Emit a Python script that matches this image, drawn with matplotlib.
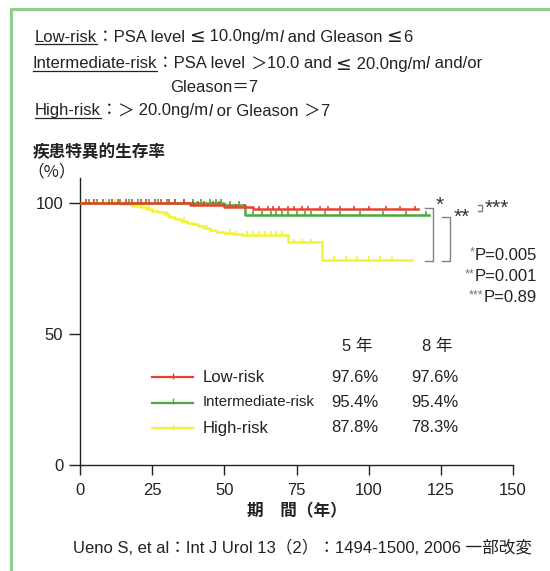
import matplotlib
matplotlib.use('Agg')
import matplotlib.pyplot as plt
from matplotlib.lines import Line2D
import numpy as np

plt.rcParams['font.family'] = ['Liberation Sans', 'Noto Sans CJK JP', 'DejaVu Sans']

# Kaplan-Meier steps (time, survival %) and censoring times
low_t = [0, 38, 50, 60]
low_s = [100, 99.2, 98.4, 97.6]
low_end = 117
low_cens = [2, 5, 8, 11, 13, 16, 18, 21, 23, 26, 28, 31, 33, 36, 39, 41, 43, 46, 48, 52, 54,
            57, 62, 65, 67, 69, 72, 74, 77, 79, 83, 86, 90, 95, 100, 106, 111, 116]

mid_t = [0, 50, 57]
mid_s = [100, 99.3, 95.4]
mid_end = 121
mid_cens = [3, 6, 10, 14, 17, 20, 24, 27, 30, 33, 36, 39, 42, 45, 47, 49, 52, 55, 60, 63, 66,
            68, 70, 72, 75, 78, 80, 85, 90, 97, 105, 113, 120]

high_t = [0, 14, 18, 21, 23, 25, 27, 29, 31, 33, 35, 37, 39, 41, 43, 45, 47, 50, 53, 56, 72, 84]
high_s = [100, 99.5, 99.0, 98.5, 97.8, 97.1, 96.4, 95.6, 94.8, 94.0, 93.2, 92.5, 91.8, 91.0,
          90.3, 89.6, 89.0, 88.5, 88.1, 87.8, 85.0, 78.3]
high_end = 115
high_cens = [2, 5, 9, 12, 16, 24, 30, 36, 44, 52, 54, 58, 60, 62, 64, 66, 68, 70, 74, 77, 80,
             88, 92, 96, 100, 104, 108]

groups = ['Low-risk', 'Intermediate-risk', 'High-risk']
surv_5y = ['97.6%', '95.4%', '87.8%']
surv_8y = ['97.6%', '95.4%', '78.3%']
colors = ['#e8422c', '#4aab3c', '#f4f233']

p_marks = ['*', '**', '***']
p_values = ['P=0.005', 'P=0.001', 'P=0.89']

xticks = [0, 25, 50, 75, 100, 125, 150]
yticks = [0, 50, 100]

W, H = 550, 571
fig = plt.figure(figsize=(W / 100, H / 100), dpi=100)
ax = fig.add_axes([80 / W, 1 - 465 / H, 433 / W, 287 / H])
renderer = fig.canvas.get_renderer()
INK = '#222222'


def px(x, y):
    return x / W, 1 - y / H


def km(ax, t, s, end, cens, color):
    tt = list(t) + [end]
    ss = list(s) + [s[-1]]
    ax.step(tt, ss, where='post', color=color, lw=1.8, zorder=3)
    idx = np.searchsorted(t, cens, side='right') - 1
    ax.plot(cens, np.array(s)[idx] + 0.6, ls='none', marker='|', ms=3.5, mew=1.2,
            color=color, zorder=3)


km(ax, high_t, high_s, high_end, high_cens, colors[2])
km(ax, mid_t, mid_s, mid_end, mid_cens, colors[1])
km(ax, low_t, low_s, low_end, low_cens, colors[0])

ax.set_xlim(0, 150)
ax.set_ylim(0, 109.5)
ax.set_xticks(xticks)
ax.set_yticks(yticks)
for sp in ['top', 'right']:
    ax.spines[sp].set_visible(False)
for sp in ['left', 'bottom']:
    ax.spines[sp].set_linewidth(1.0)
    ax.spines[sp].set_color(INK)
ax.tick_params(length=7, width=1.0, color=INK, labelsize=12, labelcolor=INK)
ax.tick_params(axis='x', pad=6)
ax.tick_params(axis='y', length=8, pad=4)
ax.set_xlabel('期　間（年）', fontsize=12, fontweight='bold', color=INK, labelpad=4)

# significance brackets
bk = dict(color='#808080', lw=1.0, clip_on=False)
ax.plot([119.5, 122.3, 122.3, 119.5], [low_s[-1] + 0.4, low_s[-1] + 0.4, high_s[-1] - 0.3, high_s[-1] - 0.3], **bk)
ax.plot([125.5, 128.3, 128.3, 125.5], [mid_s[-1] - 0.8, mid_s[-1] - 0.8, high_s[-1] - 0.3, high_s[-1] - 0.3], **bk)
ax.plot([137.8, 139.2, 139.2, 137.8], [99.2, 99.2, 97.0, 97.0], **bk)
ax.text(123.3, 99.0, '*', fontsize=15, color='#333333', va='center', ha='left')
ax.text(129.6, 94.5, '**', fontsize=15, color='#333333', va='center', ha='left')
ax.text(140.0, 98.0, '***', fontsize=15, color='#333333', va='center', ha='left')

for i, (m, p) in enumerate(zip(p_marks, p_values)):
    x, y = px(537, 255 + 21.5 * i)
    t = fig.text(x, y, p, fontsize=12, color=INK, ha='right', va='center')
    bb = t.get_window_extent(renderer)
    fig.text(bb.x0 / W, y + 0.004, m, fontsize=9, color='#777777', ha='right', va='center')

# legend table
fig.text(*px(357, 346), '5 年', fontsize=12, color=INK, ha='center', va='center')
fig.text(*px(437, 346), '8 年', fontsize=12, color=INK, ha='center', va='center')
for i, (g, a, b, c) in enumerate(zip(groups, surv_5y, surv_8y, colors)):
    y = 377 + 25.5 * i
    fig.add_artist(Line2D([152 / W, 193 / W], [1 - y / H] * 2, color=c, lw=1.6))
    fig.add_artist(Line2D([172.5 / W], [1 - (y - 1.5) / H], color=c, marker='|', ms=4, mew=1.0))
    size = 10.8 if len(g) > 10 else 12
    fig.text(*px(203, y), g, fontsize=size, color=INK, ha='left', va='center')
    fig.text(*px(355, y), a, fontsize=12, color=INK, ha='center', va='center')
    fig.text(*px(435, y), b, fontsize=12, color=INK, ha='center', va='center')

fig.text(*px(33, 152), '疾患特異的生存率', fontsize=12, fontweight='bold', color=INK,
         ha='left', va='center')
fig.text(*px(27, 172), '（%）', fontsize=12, color=INK, ha='left', va='center',
         family=['Noto Sans CJK JP'])


def rich(x, y, parts, size=12.0):
    # draw consecutive text pieces, underlining the ones flagged
    x = x / W
    y = 1 - y / H
    for s, style in parts:
        kw = dict(fontsize=size, color=INK, ha='left', va='center')
        kw.update({k: v for k, v in style.items() if k != 'ul'})
        t = fig.text(x, y, s, **kw)
        bb = t.get_window_extent(renderer)
        if style.get('ul'):
            fig.add_artist(Line2D([bb.x0 / W, bb.x1 / W], [(bb.y0 + 1) / H] * 2,
                                  color=INK, lw=0.9))
        x = bb.x1 / W


ul = {'ul': True}
it = {'style': 'italic'}
le = {'family': ['DejaVu Sans'], 'fontsize': 13.5}
gt = {'family': ['Noto Sans CJK JP']}
rich(35, 37, [('Low-risk', ul), ('：PSA level ', {}), ('≤', le), (' 10.0ng/m', {}), ('l', it),
              (' and Gleason ', {}), ('≤', le), ('6', {})])
rich(33, 64, [('Intermediate-risk', ul), ('：PSA level ', {}), ('＞', gt), ('10.0 and ', {}),
              ('≤', le), (' 20.0ng/m', {}), ('l', it), (' and/or', {})])
rich(170, 87, [('Gleason＝7', {})])
rich(35, 111, [('High-risk', ul), ('：', {}), ('＞', gt), (' 20.0ng/m', {}), ('l', it),
               (' or Gleason ', {}), ('＞', gt), ('7', {})])

fig.text(*px(73, 548), 'Ueno S, et al：Int J Urol 13（2）：1494-1500, 2006 一部改変', fontsize=12,
         color=INK, ha='left', va='center')

# outer frame
frame = '#8fd18c'
fig.add_artist(Line2D([11 / W, 11 / W], [0, 1 - 9 / H], color=frame, lw=2.2))
fig.add_artist(Line2D([11 / W, 1], [1 - 9 / H, 1 - 9 / H], color=frame, lw=2.2))

fig.savefig('out.png', dpi=100, facecolor='white')
